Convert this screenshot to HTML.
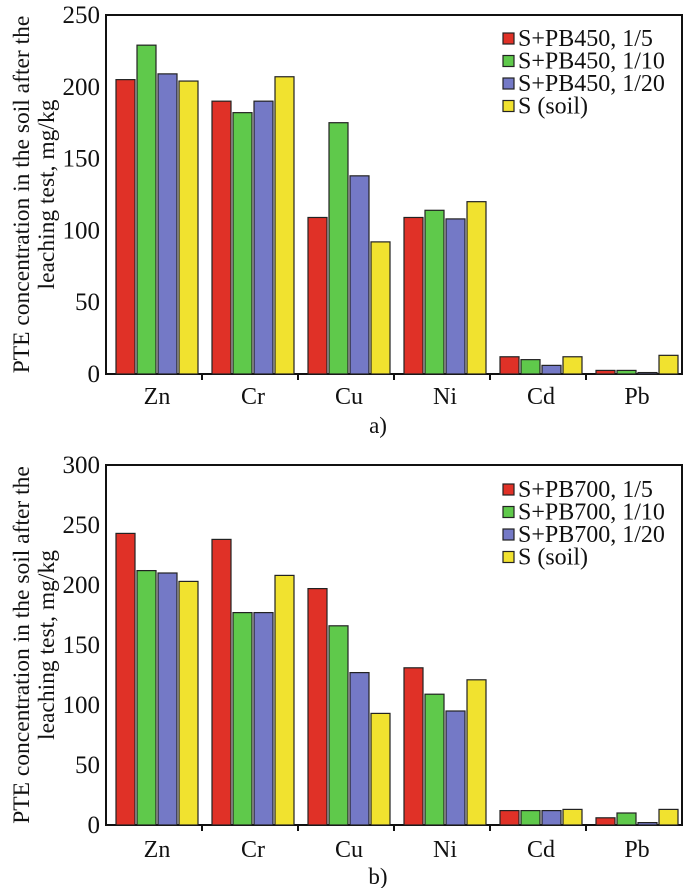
<!DOCTYPE html>
<html><head><meta charset="utf-8"><style>
html,body{margin:0;padding:0;background:#fff;}
svg{display:block;font-family:"Liberation Serif",serif;}
</style></head><body>
<svg id="chart" width="688" height="888" viewBox="0 0 688 888" xmlns="http://www.w3.org/2000/svg"></svg>
<script>
const categories = ["Zn","Cr","Cu","Ni","Cd","Pb"];
const colors = ["#e03127","#5fc94b","#7479c6","#f1e22f"];
const seriesNamesA = ["S+PB450, 1/5","S+PB450, 1/10","S+PB450, 1/20","S (soil)"];
const seriesNamesB = ["S+PB700, 1/5","S+PB700, 1/10","S+PB700, 1/20","S (soil)"];
const a_15  = [205,190,109,109,12,2.5];
const a_110 = [229,182,175,114,10,2.5];
const a_120 = [209,190,138,108,6,1];
const a_soil= [204,207,92,120,12,13];
const b_15  = [243,238,197,131,12,6];
const b_110 = [212,177,166,109,12,10];
const b_120 = [210,177,127,95,12,2];
const b_soil= [203,208,93,121,13,13];
const ticksA = [0,50,100,150,200,250];
const ticksB = [0,50,100,150,200,250,300];

const svg = document.getElementById('chart');
const NS = "http://www.w3.org/2000/svg";
function mk(tag, attrs, parent){
  const e = document.createElementNS(NS, tag);
  for (const k in attrs) e.setAttribute(k, attrs[k]);
  (parent||svg).appendChild(e);
  return e;
}
function drawPanel(id, top, bottom, ymax, ticks, series, names, legendY, labelY, letterY, letter){
  const left = 106, right = 682;
  const g = mk('g', {});
  
  
  const y = v => bottom - (v / ymax) * (bottom - top);
  const cw = (right - left) / categories.length;
  const x = (ci, si) => left + ci * cw + 10 + si * 21;
  const fr = mk('rect', {x:left, y:top, width:right-left, height:bottom-top, fill:'none', stroke:'#111', 'stroke-width':2}, g);
  
  
  ticks.forEach(t => {
    const tx = mk('text', {x:100, y:y(t)+8, 'text-anchor':'end', 'font-size':25, fill:'#111'}, g);
    tx.textContent = t;
    
    
  });
  series.forEach((vals, si) => {
    vals.forEach((v, ci) => {
      const r = mk('rect', {x:x(ci,si), y:y(v), width:19, height:bottom - y(v), fill:colors[si], stroke:'#222', 'stroke-width':1.2}, g);
      
      
    });
  });
  categories.forEach((c, ci) => {
    if (ci > 0) mk('line', {x1:left+ci*cw, x2:left+ci*cw, y1:bottom, y2:bottom+6, stroke:'#111','stroke-width':2}, g);
    const t = mk('text', {x:left+ci*cw+cw/2+3, y:labelY, 'text-anchor':'middle', 'font-size':24, fill:'#111'}, g);
    t.textContent = c;
    
    
  });
  const yt = mk('text', {transform:'translate(29,'+((top+bottom)/2)+') rotate(-90)', 'text-anchor':'middle', 'font-size':23.5, fill:'#111'}, g);
  yt.textContent = 'PTE concentration in the soil after the';
  
  
  const yt2 = mk('text', {transform:'translate(54,'+((top+bottom)/2)+') rotate(-90)', 'text-anchor':'middle', 'font-size':23.5, fill:'#111'}, g);
  yt2.textContent = 'leaching test, mg/kg';
  
  
  names.forEach((n, i) => {
    const ly = legendY + i*22.5;
    const sq = mk('rect', {x:503, y:ly-5, width:11, height:11, fill:colors[i], stroke:'#222','stroke-width':1.2}, g);
    
    
    const lt = mk('text', {x:518, y:ly+8, 'font-size':24, fill:'#111'}, g);
    lt.textContent = n;
    
    
  });
  const lt = mk('text', {x:378, y:letterY, 'text-anchor':'middle', 'font-size':23, fill:'#111'}, g);
  lt.textContent = letter;
  
  
}
drawPanel('a', 15, 374, 250, ticksA, [a_15,a_110,a_120,a_soil], seriesNamesA, 38, 404, 433, 'a)');
drawPanel('b', 465, 825, 300, ticksB, [b_15,b_110,b_120,b_soil], seriesNamesB, 489, 857, 884, 'b)');
</script>
</body></html>
